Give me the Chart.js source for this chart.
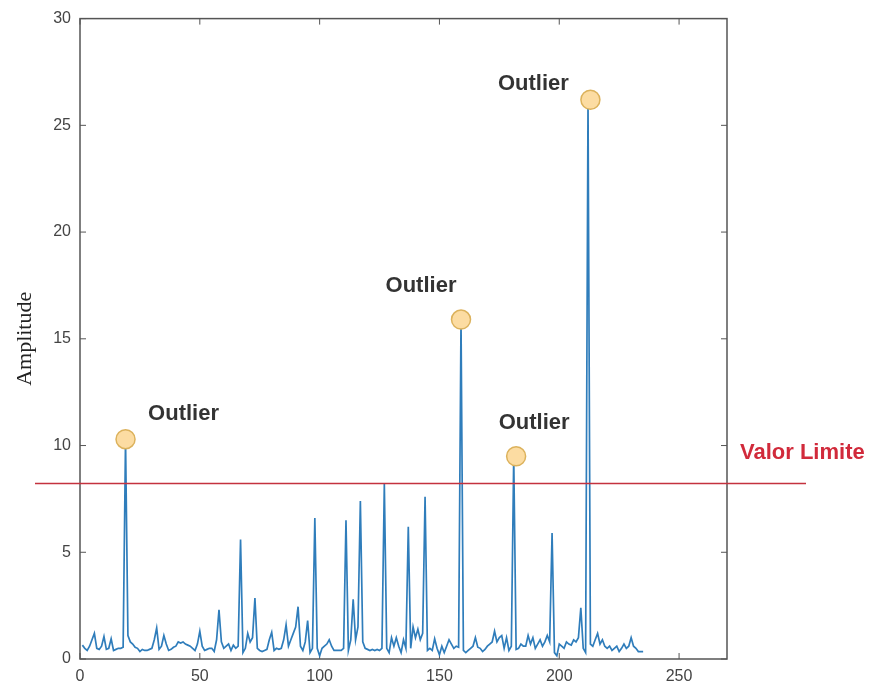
<!DOCTYPE html>
<html>
<head>
<meta charset="utf-8">
<script src="https://cdn.jsdelivr.net/npm/chart.js@4"></script>
<style>
  html, body { margin: 0; padding: 0; background: #fff; }
  #wrap { width: 877px; height: 689px; }
</style>
</head>
<body>
<div id="wrap"><canvas id="ampChart" width="877" height="689"></canvas></div>
<script>
// signal amplitude, one value per sample (x = 1..235)
const amplitude = [
  0.65, 0.5, 0.4, 0.6, 0.9, 1.2, 0.5, 0.45, 0.6, 1.05,
  0.45, 0.5, 0.95, 0.4, 0.45, 0.5, 0.5, 0.55, 10.3, 1.1,
  0.8, 0.7, 0.55, 0.5, 0.35, 0.45, 0.4, 0.4, 0.45, 0.5,
  0.9, 1.45, 0.45, 0.6, 1.1, 0.7, 0.4, 0.45, 0.55, 0.6,
  0.8, 0.75, 0.8, 0.7, 0.65, 0.6, 0.5, 0.4, 0.7, 1.3,
  0.6, 0.4, 0.45, 0.5, 0.5, 0.35, 0.9, 2.3, 0.8, 0.5,
  0.6, 0.7, 0.4, 0.65, 0.5, 0.6, 5.6, 0.3, 0.5, 1.2,
  0.8, 1.0, 2.85, 0.5, 0.4, 0.35, 0.4, 0.45, 0.9, 1.25,
  0.4, 0.5, 0.45, 0.5, 0.9, 1.6, 0.6, 0.9, 1.2, 1.5,
  2.45, 0.6, 0.4, 0.8, 1.8, 0.3, 0.5, 6.6, 0.5, 0.15,
  0.5, 0.6, 0.7, 0.9, 0.6, 0.4, 0.4, 0.4, 0.4, 0.5,
  6.5, 0.4, 0.9, 2.8, 0.9, 1.5, 7.4, 0.8, 0.5, 0.45,
  0.4, 0.45, 0.4, 0.45, 0.4, 0.5, 8.2, 0.5, 0.3, 1.0,
  0.6, 1.0, 0.6, 0.3, 0.9, 0.5, 6.2, 0.5, 1.5, 1.0,
  1.4, 0.9, 1.2, 7.6, 0.4, 0.5, 0.4, 0.95, 0.5, 0.2,
  0.6, 0.3, 0.6, 0.9, 0.7, 0.5, 0.6, 0.55, 15.9, 0.4,
  0.3, 0.4, 0.5, 0.6, 1.0, 0.55, 0.5, 0.35, 0.45, 0.6,
  0.7, 0.8, 1.3, 0.8, 1.0, 1.1, 0.5, 1.0, 0.4, 0.6,
  9.5, 0.45, 0.5, 0.7, 0.6, 0.6, 1.1, 0.7, 1.0, 0.5,
  0.7, 0.9, 0.6, 0.8, 1.1, 0.8, 5.9, 0.3, 0.15, 0.7,
  0.6, 0.5, 0.8, 0.7, 0.65, 0.9, 0.8, 1.0, 2.4, 0.5,
  0.3, 26.2, 0.7, 0.6, 0.9, 1.2, 0.7, 0.9, 0.6, 0.5,
  0.6, 0.4, 0.5, 0.6, 0.35, 0.5, 0.7, 0.5, 0.6, 1.0,
  0.6, 0.5, 0.35, 0.35, 0.35
];
const samples = amplitude.map((v, i) => i + 1);

// flagged outliers
const outlierX = [19, 159, 182, 213];
const outlierY = [10.3, 15.9, 9.5, 26.2];
const outlierLabel = ["Outlier", "Outlier", "Outlier", "Outlier"];

const limitValue = 8.22;
const limitLabel = "Valor Limite";

const xTicks = [0, 50, 100, 150, 200, 250];
const yTicks = [0, 5, 10, 15, 20, 25, 30];

// label offsets (px) relative to each outlier marker
const labelOffsets = [[58, -25], [-40, -34], [18, -33], [-57, -16]];

const boxPlugin = {
  id: "matlabBox",
  beforeDatasetsDraw(chart) {
    const { ctx, chartArea: a, scales } = chart;
    ctx.save();
    ctx.strokeStyle = "#555";
    ctx.lineWidth = 1.5;
    ctx.strokeRect(a.left, a.top, a.right - a.left, a.bottom - a.top);
    ctx.lineWidth = 1;
    ctx.beginPath();
    xTicks.forEach(t => {
      const px = scales.x.getPixelForValue(t);
      ctx.moveTo(px, a.bottom); ctx.lineTo(px, a.bottom - 6);
      ctx.moveTo(px, a.top); ctx.lineTo(px, a.top + 6);
    });
    yTicks.forEach(t => {
      const py = scales.y.getPixelForValue(t);
      ctx.moveTo(a.left, py); ctx.lineTo(a.left + 6, py);
      ctx.moveTo(a.right, py); ctx.lineTo(a.right - 6, py);
    });
    ctx.stroke();
    ctx.restore();
  },
  afterDatasetsDraw(chart) {
    const { ctx, chartArea: a, scales } = chart;
    ctx.save();
    // threshold line, runs past the axes box like the original
    const ly = scales.y.getPixelForValue(limitValue);
    ctx.strokeStyle = "#c4323e";
    ctx.lineWidth = 1.5;
    ctx.beginPath();
    ctx.moveTo(a.left - 45, ly);
    ctx.lineTo(a.right + 79, ly);
    ctx.stroke();

    ctx.font = "bold 22px 'Liberation Sans', Arial, sans-serif";
    ctx.textAlign = "left";
    ctx.textBaseline = "middle";
    ctx.fillStyle = "#d12a3b";
    ctx.fillText(limitLabel, a.right + 13, ly - 31);

    ctx.textAlign = "center";
    ctx.fillStyle = "#333";
    outlierX.forEach((x, i) => {
      const px = scales.x.getPixelForValue(x);
      const py = scales.y.getPixelForValue(outlierY[i]);
      ctx.fillText(outlierLabel[i], px + labelOffsets[i][0], py + labelOffsets[i][1]);
    });
    ctx.restore();
  }
};

function renderChart() {
  const ctx = document.getElementById("ampChart").getContext("2d");

  const linePoints = samples.map((x, i) => ({ x: x, y: amplitude[i] }));
  const outlierPoints = outlierX.map((x, i) => ({ x: x, y: outlierY[i] }));

  new Chart(ctx, {
    type: "line",
    data: {
      datasets: [
        {
          label: "Outliers",
          data: outlierPoints,
          showLine: false,
          pointRadius: 9.5,
          pointBackgroundColor: "#fcdca2",
          pointBorderColor: "#dcb25c",
          pointBorderWidth: 1.5,
          order: 0
        },
        {
          label: "Amplitude",
          data: linePoints,
          borderColor: "#2f7dbb",
          borderWidth: 1.7,
          pointRadius: 0,
          tension: 0,
          fill: false,
          order: 1
        }
      ]
    },
    options: {
      responsive: false,
      animation: false,
      layout: { padding: { top: 17, right: 150, bottom: 0, left: 0 } },
      plugins: {
        legend: { display: false },
        tooltip: { enabled: false }
      },
      scales: {
        x: {
          type: "linear",
          min: 0,
          max: 270,
          grid: { display: false, drawTicks: false },
          border: { display: false },
          afterBuildTicks: s => { s.ticks = xTicks.map(v => ({ value: v })); },
          afterFit: s => { s.height = 30; },
          ticks: {
            padding: 8,
            color: "#444",
            font: { family: "'Liberation Sans', Arial, sans-serif", size: 16 }
          }
        },
        y: {
          type: "linear",
          min: 0,
          max: 30,
          grid: { display: false, drawTicks: false },
          border: { display: false },
          afterBuildTicks: s => { s.ticks = yTicks.map(v => ({ value: v })); },
          afterFit: s => { s.width = 80; },
          ticks: {
            padding: 9,
            color: "#444",
            font: { family: "'Liberation Sans', Arial, sans-serif", size: 16 }
          },
          title: {
            display: true,
            text: "Amplitude",
            color: "#222",
            padding: { top: 12, bottom: 0 },
            font: { family: "'Liberation Serif', 'Times New Roman', serif", size: 22 }
          }
        }
      }
    },
    plugins: [boxPlugin]
  });
}

renderChart();
</script>
</body>
</html>
